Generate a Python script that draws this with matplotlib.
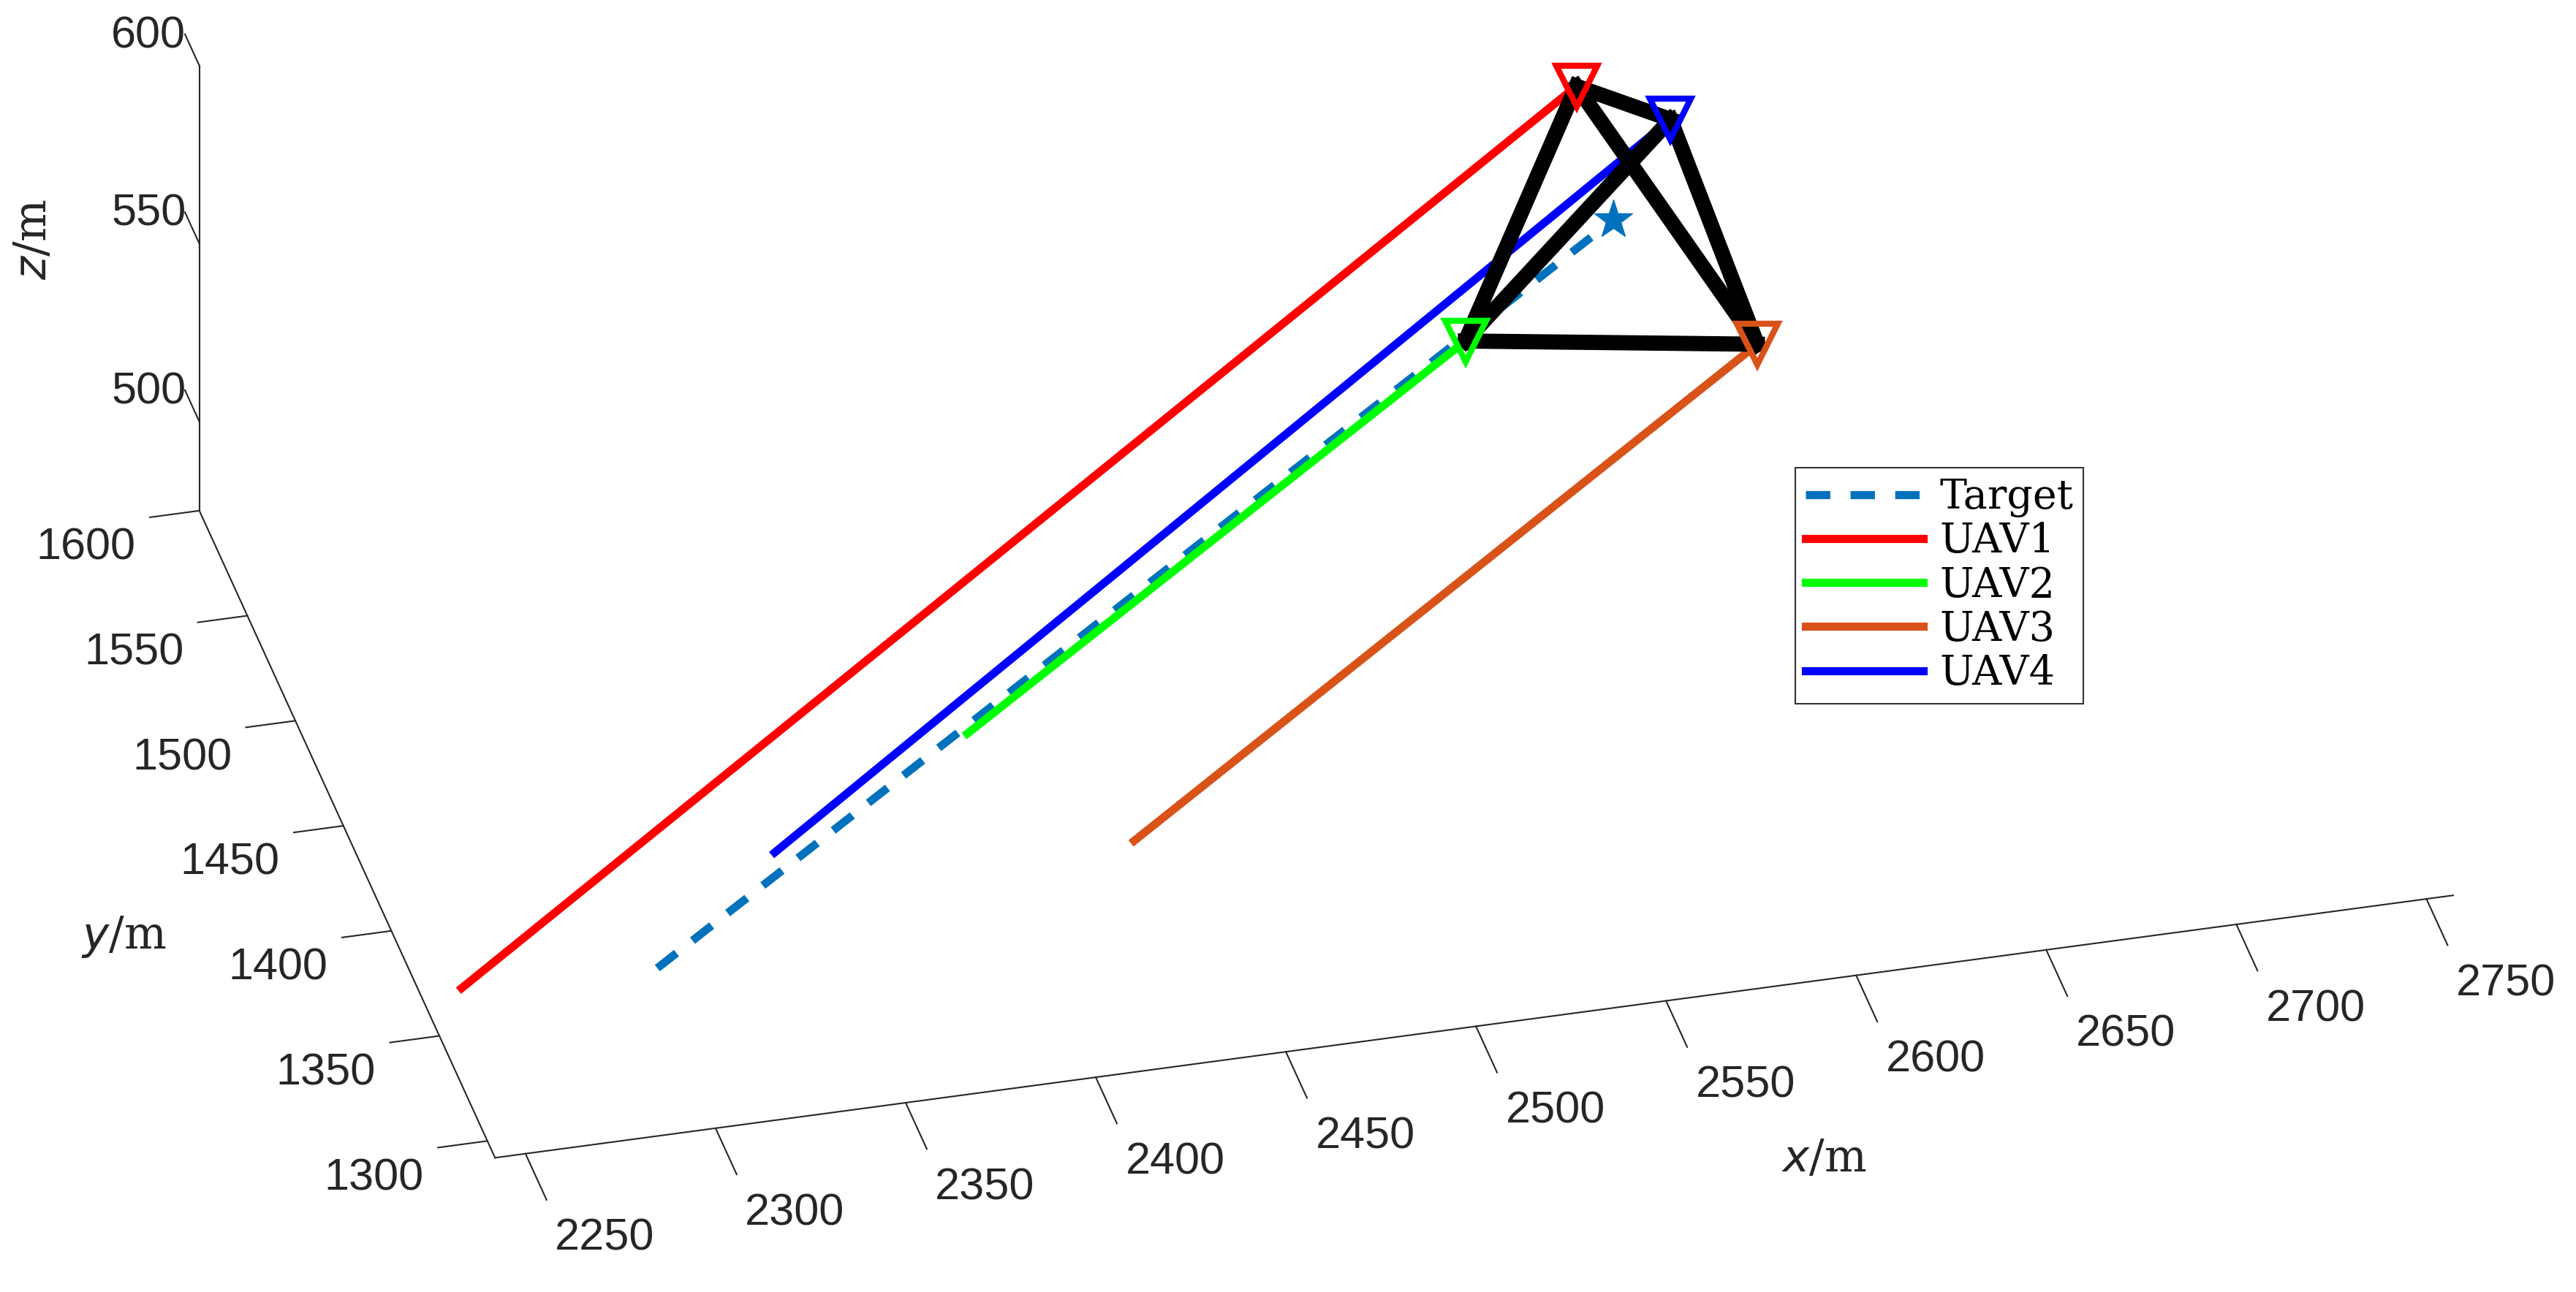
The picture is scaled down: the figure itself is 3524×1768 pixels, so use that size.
import matplotlib
matplotlib.use("Agg")
import matplotlib.pyplot as plt
import numpy as np

names = ["Target", "UAV1", "UAV2", "UAV3", "UAV4"]
colors = ["#0072BD", "#FF0000", "#00FF00", "#D95319", "#0000FF"]
start_x = [2292, 2238, 2393, 2427, 2335]
start_y = [1321, 1311, 1398, 1359, 1369]
start_z = [504, 512, 510, 498, 502]
end_x = [2592, 2585, 2550, 2624, 2607]
end_y = [1513, 1524, 1501, 1490, 1513]
end_z = [558, 590, 537, 532, 584]
xticks = [2250, 2300, 2350, 2400, 2450, 2500, 2550, 2600, 2650, 2700, 2750]
yticks = [1300, 1350, 1400, 1450, 1500, 1550, 1600]
zticks = [500, 550, 600]
xlim = (2242, 2757)
ylim = (1292, 1600)
zlim = (475, 600)

fig = plt.figure(figsize=(35.24, 17.68), dpi=100)
ax = fig.add_axes([-0.313, -0.306, 1.631, 1.819], projection="3d", proj_type="ortho")
ax.set_axis_off()
ax.view_init(elev=32.8, azim=-103.9)
ax.set_box_aspect((0.98*(xlim[1]-xlim[0]), ylim[1]-ylim[0], 1.06*(zlim[1]-zlim[0])))
ax.set_xlim(*xlim); ax.set_ylim(*ylim); ax.set_zlim(*zlim)

axc = "#262626"
tfont = dict(family="Liberation Sans", size=44, color=axc)
ax.plot(xlim, [ylim[0]]*2, [zlim[0]]*2, color=axc, lw=1.5)
ax.plot([xlim[0]]*2, ylim, [zlim[0]]*2, color=axc, lw=1.5)
ax.plot([xlim[0]]*2, [ylim[1]]*2, zlim, color=axc, lw=1.5)
for t in xticks:
    ax.plot([t, t], [ylim[0], ylim[0]-22], [zlim[0]]*2, color=axc, lw=1.5)
    ax.text(t+10, ylim[0]-43, zlim[0], str(t), ha="center", va="center", **tfont)
for t in yticks:
    ax.plot([xlim[0], xlim[0]-13], [t, t], [zlim[0]]*2, color=axc, lw=1.5)
    ax.text(xlim[0]-20, t-13, zlim[0], str(t), ha="right", va="center", **tfont)
for t in zticks:
    ax.plot([xlim[0]]*2, [ylim[1], ylim[1]+15], [t, t], color=axc, lw=1.5)
    ax.text(xlim[0], ylim[1]+14, t, str(t), ha="right", va="center", **tfont)
lfont = dict(family="DejaVu Serif", size=44, color=axc)
fig.text(0.708, 0.103, r"$x$/m", ha="center", va="center", **lfont)
fig.text(0.048, 0.275, r"$y$/m", ha="center", va="center", **lfont)
fig.text(0.013, 0.815, r"$z$/m", ha="center", va="center", rotation=90, **lfont)

for i, n in enumerate(names):
    ls = "--" if n == "Target" else "-"
    ax.plot([start_x[i], end_x[i]], [start_y[i], end_y[i]], [start_z[i], end_z[i]],
            color=colors[i], lw=8, ls=ls, dashes=(3, 2.5) if ls == "--" else (None, None), label=n)
    if n == "Target":
        ax.plot([end_x[i]], [end_y[i]], [end_z[i]], marker="*", ms=40, color=colors[i], ls="none")
u = [1, 2, 3, 4]
for a in range(4):
    for b in range(a+1, 4):
        i, j = u[a], u[b]
        ax.plot([end_x[i], end_x[j]], [end_y[i], end_y[j]], [end_z[i], end_z[j]], color="black", lw=15)
for i in u:
    ax.plot([end_x[i]], [end_y[i]], [end_z[i]], marker="v", ms=40, mfc="none",
            mec=colors[i], mew=6, ls="none")

hl = [h for h in ax.get_lines() if h.get_label() in names]
leg = fig.legend(hl, [h.get_label() for h in hl], loc="upper left",
                 bbox_to_anchor=(0.689, 0.654), prop=dict(family="DejaVu Serif", size=40),
                 frameon=True, fancybox=False, edgecolor="black", handlelength=2.9,
                 borderpad=0.25, labelspacing=0.1, handletextpad=0.4)
leg.get_frame().set_linewidth(1.5)
fig.savefig("out.png", dpi=100)
